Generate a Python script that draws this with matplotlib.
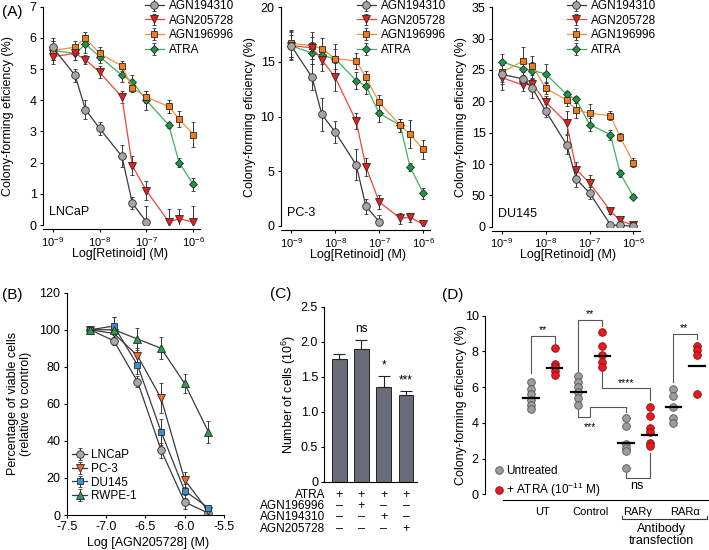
import numpy as np
import matplotlib.pyplot as plt
from matplotlib.lines import Line2D
from matplotlib.ticker import NullLocator

plt.rcParams['font.family'] = ['Liberation Sans', 'DejaVu Sans']
plt.rcParams['mathtext.default'] = 'regular'
plt.rcParams['font.size'] = 9
plt.rcParams['axes.linewidth'] = 0.8
plt.rcParams['xtick.major.width'] = 0.8
plt.rcParams['ytick.major.width'] = 0.8
plt.rcParams['xtick.major.size'] = 2.5
plt.rcParams['ytick.major.size'] = 2.5
plt.rcParams['xtick.major.pad'] = 1.5
plt.rcParams['ytick.major.pad'] = 2
plt.rcParams['xtick.labelsize'] = 8
plt.rcParams['ytick.labelsize'] = 9

W, H = 709, 550

# ---- panel A: colony formation vs retinoid concentration ----
conc = [1e-9, 3e-9, 5e-9, 1e-8, 3e-8, 5e-8, 1e-7, 3e-7, 5e-7, 1e-6]
compounds = ["AGN194310", "AGN205728", "AGN196996", "ATRA"]

lncap_194310 = [5.7, 4.8, 3.7, 3.1, 2.2, 0.7, 0.1]
lncap_194310_err = [0.3, 0.2, 0.3, 0.2, 0.35, 0.2, 0.5]
lncap_205728 = [5.4, 5.5, 5.3, 4.9, 4.1, 1.9, 1.1, 0.1, 0.2, 0.1]
lncap_205728_err = [0.25, 0.2, 0.15, 0.2, 0.2, 0.3, 0.3, 0.4, 0.3, 0.5]
lncap_196996 = [5.6, 5.7, 6.0, 5.5, 5.1, 4.4, 4.1, 3.8, 3.4, 2.9]
lncap_196996_err = [0.3, 0.2, 0.2, 0.2, 0.15, 0.15, 0.2, 0.2, 0.25, 0.4]
lncap_atra = [5.6, 5.5, 5.8, 5.4, 4.8, 4.6, 4.0, 3.2, 2.0, 1.3]
lncap_atra_err = [0.3, 0.2, 0.3, 0.2, 0.2, 0.2, 0.3, 0.1, 0.15, 0.2]

pc3_194310 = [16.5, 13.6, 10.2, 8.6, 5.6, 1.8, 0.4]
pc3_194310_err = [1.3, 1.2, 1.5, 1.0, 1.4, 0.7, 0.6]
pc3_205728 = [16.5, 16.3, 15.2, 13.6, 9.6, 5.4, 2.2, 0.7, 0.8, 0.15]
pc3_205728_err = [1.2, 1.0, 1.0, 1.3, 0.7, 0.8, 0.6, 0.5, 0.4, 0.3]
pc3_196996 = [16.7, 16.5, 16.2, 15.3, 15.1, 13.6, 11.3, 9.2, 8.4, 7.0]
pc3_196996_err = [1.2, 1.2, 1.0, 1.3, 0.7, 0.6, 0.7, 0.6, 1.3, 0.9]
pc3_atra = [16.5, 15.8, 15.6, 15.3, 13.3, 12.8, 10.3, 9.2, 5.4, 3.0]
pc3_atra_err = [1.0, 1.0, 0.8, 0.9, 0.8, 0.7, 0.8, 0.6, 0.4, 0.5]

du145_194310 = [24.3, 23.6, 22.1, 18.5, 13.1, 7.6, 5.4, 0.3, 0.2, 0.1]
du145_194310_err = [1.5, 1.0, 1.5, 1.0, 1.5, 1.2, 1.0, 0.4, 0.4, 0.3]
du145_205728 = [23.8, 22.6, 22.8, 19.9, 16.6, 9.1, 7.0, 2.5, 1.0, 0.2]
du145_205728_err = [2.0, 1.0, 1.0, 1.0, 1.8, 1.2, 1.3, 0.4, 0.4, 0.3]
du145_196996 = [24.6, 26.4, 25.7, 22.1, 20.2, 18.6, 18.1, 17.7, 14.3, 10.2]
du145_196996_err = [1.5, 2.2, 1.5, 1.0, 1.0, 1.2, 1.5, 0.7, 0.7, 0.7]
du145_atra = [26.3, 25.2, 24.9, 24.4, 21.1, 20.3, 16.3, 14.7, 8.5, 4.8]
du145_atra_err = [1.2, 1.2, 1.3, 1.5, 0.6, 0.6, 1.0, 0.8, 0.5, 0.4]

# ---- panel B: viability vs AGN205728 ----
log_agn = [-7.2, -6.9, -6.6, -6.3, -6.0, -5.7]
cell_lines = ["LNCaP", "PC-3", "DU145", "RWPE-1"]
viab_lncap = [100, 94, 72, 35, 7, 1]
viab_lncap_err = [0, 2, 3, 4, 4, 1]
viab_pc3 = [100, 98, 86, 63, 19, 2]
viab_pc3_err = [0, 3, 4, 8, 4, 1]
viab_du145 = [100, 102, 81, 45, 13, 4]
viab_du145_err = [0, 5, 5, 7, 4, 1]
viab_rwpe = [100, 100, 95, 90, 71, 45]
viab_rwpe_err = [0, 7, 6, 6, 5, 6]

# ---- panel C: cell numbers ----
cells_mean = [1.75, 1.89, 1.36, 1.24]
cells_err = [0.07, 0.13, 0.15, 0.05]
cells_sig = ["", "ns", "*", "***"]
table_rows = ["ATRA", "AGN196996", "AGN194310", "AGN205728"]
table_marks = [["+", "+", "+", "+"],
               ["–", "+", "–", "–"],
               ["–", "–", "+", "–"],
               ["–", "–", "–", "+"]]

# ---- panel D: antibody transfection ----
groups = ["UT", "Control", "RARγ", "RARα"]
untreated = [[6.3, 5.9, 5.6, 5.3, 5.0, 4.8],
             [6.6, 6.3, 6.0, 5.7, 5.4, 5.0],
             [4.3, 3.8, 2.8, 2.6, 2.4, 1.5],
             [5.9, 5.5, 4.9, 4.3, 4.0]]
atra_treated = [[8.2, 7.3, 7.1, 6.9, 6.7],
                [9.1, 8.3, 7.8, 7.4, 7.1],
                [4.9, 4.4, 3.7, 3.5, 2.9, 2.7],
                [8.3, 8.1, 7.8, 5.6]]
untreated_mid = [5.4, 5.7, 2.85, 4.9]
atra_mid = [7.05, 7.75, 3.3, 7.2]

fig = plt.figure(figsize=(W / 100, H / 100), dpi=100)


def px_axes(left, top, right, bottom):
    return fig.add_axes([left / W, 1 - bottom / H, (right - left) / W, (bottom - top) / H])


def clean(ax):
    ax.spines['top'].set_visible(False)
    ax.spines['right'].set_visible(False)


styles = {
    "AGN194310": dict(marker='o', mfc='#a4a4a4', color='#3a3a3a', ms=5.5),
    "AGN205728": dict(marker='v', mfc='#e3201b', color='#f0443a', ms=5.5),
    "AGN196996": dict(marker='s', mfc='#f47a1f', color='#f5913e', ms=5.0),
    "ATRA": dict(marker='D', mfc='#1e9648', color='#3cb55a', ms=4.5),
}


def retinoid_panel(ax, series, errs, ylim, yticks, yticklabels, cell, xlo, xhi, leg_px):
    for name in compounds[::-1]:
        st = styles[name]
        y = series[name]
        ax.errorbar(conc[:len(y)], y, yerr=errs[name], color=st['color'], lw=0.9,
                    marker=st['marker'], mfc=st['mfc'], mec='#2a2a2a', mew=0.6, ms=st['ms'],
                    ecolor='#333333', elinewidth=0.7, capsize=1.5, capthick=0.7, label=name)
    ax.set_xscale('log')
    ax.set_xlim(10 ** xlo, 10 ** xhi)
    ax.set_ylim(*ylim)
    ax.set_xticks([1e-9, 1e-8, 1e-7, 1e-6])
    ax.xaxis.set_minor_locator(NullLocator())
    ax.set_yticks(yticks)
    ax.set_yticklabels(yticklabels)
    clean(ax)
    ax.spines['bottom'].set_position(('outward', 3))
    ax.text(0.04, 0.045, cell, transform=ax.transAxes, fontsize=9)
    handles, labels = ax.get_legend_handles_labels()
    ax.legend(handles[::-1], labels[::-1], loc='upper left', frameon=False, fontsize=8.5,
              bbox_to_anchor=(leg_px[0] / W, 1 - leg_px[1] / H), bbox_transform=fig.transFigure,
              borderpad=0, borderaxespad=0, labelspacing=0.22, handlelength=1.6, handletextpad=0.4)
    ax.set_xlabel("Log[Retinoid] (M)", fontsize=9)
    ax.set_ylabel("Colony-forming eficiency (%)", fontsize=9)


# A1 LNCaP
ax1 = px_axes(43, 6.7, 200, 225)
retinoid_panel(ax1,
               dict(zip(compounds, [lncap_194310, lncap_205728, lncap_196996, lncap_atra])),
               dict(zip(compounds, [lncap_194310_err, lncap_205728_err, lncap_196996_err, lncap_atra_err])),
               (0, 7), range(0, 8), [str(v) for v in range(0, 8)], "LNCaP", -9.207, -5.857, (145, 0))
ax1.yaxis.set_label_coords(-0.185, 0.5)
ax1.xaxis.set_label_coords(0.49, -0.106)

# A2 PC-3
ax2 = px_axes(280.7, 7.3, 430, 226)
retinoid_panel(ax2,
               dict(zip(compounds, [pc3_194310, pc3_205728, pc3_196996, pc3_atra])),
               dict(zip(compounds, [pc3_194310_err, pc3_205728_err, pc3_196996_err, pc3_atra_err])),
               (0, 20), [0, 5, 10, 15, 20], ["0", "5", "10", "15", "20"], "PC-3", -9.234, -5.848, (357, 0))
ax2.yaxis.set_label_coords(-0.165, 0.5)
ax2.xaxis.set_label_coords(0.52, -0.106)

# A3 DU145
ax3 = px_axes(491.7, 7.3, 640, 226.7)
retinoid_panel(ax3,
               dict(zip(compounds, [du145_194310, du145_205728, du145_196996, du145_atra])),
               dict(zip(compounds, [du145_194310_err, du145_205728_err, du145_196996_err, du145_atra_err])),
               (0, 35), range(0, 40, 5), ["0", "50", "10", "15", "20", "25", "30", "35"], "DU145",
               -9.228, -5.85, (567, 0))
ax3.yaxis.set_label_coords(-0.165, 0.5)
ax3.xaxis.set_label_coords(0.517, -0.103)

fig.text(2 / W, 1 - 12 / H, "(A)", fontsize=11, va='center')

# ---- B ----
axb = px_axes(66.7, 292.7, 224, 515)
b_series = [viab_lncap, viab_pc3, viab_du145, viab_rwpe]
b_errs = [viab_lncap_err, viab_pc3_err, viab_du145_err, viab_rwpe_err]
b_markers = [('o', '#a8a8a8', 5.5), ('v', '#f26b21', 5.5), ('s', '#3a8fd6', 5.0), ('^', '#2a9d48', 5.5)]
for name, y, e, (m, c, ms) in zip(cell_lines, b_series, b_errs, b_markers):
    axb.errorbar(log_agn, y, yerr=e, color='#3a3a3a', lw=0.9, marker=m, mfc=c, mec='#2a2a2a',
                 mew=0.6, ms=ms, ecolor='#333333', elinewidth=0.7, capsize=1.5, capthick=0.7, label=name)
axb.set_xlim(-7.5, -5.5)
axb.set_ylim(0, 120)
axb.set_xticks([-7.5, -7.0, -6.5, -6.0, -5.5])
axb.set_xticklabels(["-7.5", "-7.0", "-6.5", "-6.0", "-5.5"], fontsize=9)
axb.set_yticks(range(0, 121, 20))
clean(axb)
axb.set_xlabel("Log [AGN205728] (M)", fontsize=9)
axb.set_ylabel("Percentage of viable cells\n(relative to control)", linespacing=1.1, fontsize=9)
axb.yaxis.set_label_coords(-0.22, 0.5)
axb.xaxis.set_label_coords(0.52, -0.1)
axb.legend(loc='upper left', frameon=False, fontsize=8.5,
           bbox_to_anchor=(72 / W, 1 - 449 / H), bbox_transform=fig.transFigure,
           borderpad=0, borderaxespad=0, labelspacing=0.15, handlelength=1.3, handletextpad=0.35)
fig.text(2 / W, 1 - 295 / H, "(B)", fontsize=11, va='center')

# ---- C ----
axc = px_axes(324.3, 306.7, 416.7, 481.7)
xc = np.arange(len(cells_mean))
axc.bar(xc, cells_mean, width=0.67, color='#6a6c78', edgecolor='#222222', linewidth=0.7,
        yerr=[np.zeros(len(cells_err)), cells_err], error_kw=dict(ecolor='#222222', elinewidth=0.8,
                                                                  capsize=4, capthick=0.8))
for x, m, e, s in zip(xc, cells_mean, cells_err, cells_sig):
    if s:
        axc.text(x, m + e + 0.07, s, ha='center', va='bottom', fontsize=8.5)
axc.set_xlim(-0.67, 3.48)
axc.set_ylim(0, 2.5)
axc.set_yticks([0, 0.5, 1.0, 1.5, 2.0, 2.5])
axc.set_yticklabels(["0", "0.5", "1.0", "1.5", "2.0", "2.5"])
axc.set_xticks([])
clean(axc)
axc.set_ylabel("Number of cells (10$^{6}$)", fontsize=9)
axc.yaxis.set_label_coords(-0.285, 0.5)
row_y = [-0.19, -0.35, -0.51, -0.67]
for ry, label, marks in zip(row_y, table_rows, table_marks):
    axc.text(-0.62, ry, label, ha='right', va='center', fontsize=8.5, clip_on=False)
    for x, mk in zip(xc, marks):
        axc.text(x, ry, mk, ha='center', va='center', fontsize=9, clip_on=False)
fig.text(270 / W, 1 - 294 / H, "(C)", fontsize=11, va='center')

# ---- D ----
axd = px_axes(485, 315.7, 708, 494.3)
gray_c, red_c = '#9c9c9c', '#e8191f'
for g, (u, a, um, am) in enumerate(zip(untreated, atra_treated, untreated_mid, atra_mid)):
    axd.plot([g - 0.25] * len(u), u, 'o', ms=5.5, mfc=gray_c, mec='#555555', mew=0.6, zorder=3)
    axd.plot([g + 0.25] * len(a), a, 'o', ms=5.5, mfc=red_c, mec='#8a1010', mew=0.6, zorder=3)
    axd.plot([g - 0.41, g - 0.09], [um, um], color='black', lw=1.6, zorder=4)
    axd.plot([g + 0.09, g + 0.41], [am, am], color='black', lw=1.6, zorder=4)

bk = dict(color='#555555', lw=0.8, zorder=2)
sk = dict(ha='center', fontsize=7.5)
axd.plot([-0.25, -0.25, 0.25, 0.25], [6.77, 8.86, 8.86, 8.48], **bk)
axd.text(0, 8.9, "**", va='bottom', **sk)
axd.plot([0.75, 0.75, 1.25, 1.25], [6.92, 9.75, 9.75, 9.42], **bk)
axd.text(1, 9.79, "**", va='bottom', **sk)
axd.plot([2.75, 2.75, 3.25, 3.25], [6.3, 8.97, 8.97, 8.67], **bk)
axd.text(2.97, 9.01, "**", va='bottom', **sk)
axd.plot([1.25, 1.25, 2.25, 2.25], [6.86, 5.93, 5.93, 5.28], **bk)
axd.text(1.75, 5.97, "****", va='bottom', **sk)
axd.plot([0.75, 0.75, 1.0, 1.0, 1.75, 1.75], [4.72, 4.34, 4.34, 4.9, 4.9, 4.62], **bk)
axd.text(1.0, 4.05, "***", va='top', **sk)
axd.plot([1.75, 1.75, 2.25, 2.25], [1.17, 0.9, 0.9, 2.3], **bk)
axd.text(1.98, 0.46, "ns", va='center', ha='center', fontsize=9)

axd.set_xlim(-1.22, 3.48)
axd.set_ylim(0, 10)
axd.set_yticks(range(0, 11, 2))
axd.set_xticks(range(len(groups)))
axd.set_xticklabels(groups, fontsize=9)
axd.tick_params(axis='x', length=0, pad=5)
clean(axd)
axd.spines['bottom'].set_position(('outward', 4))
axd.spines['bottom'].set_bounds(-0.85, 3.48)
axd.set_ylabel("Colony-forming eficiency (%)", fontsize=9)
axd.yaxis.set_label_coords(-0.08, 0.5)
axd.plot([1.66, 1.66, 3.45, 3.45], [-1.2, -1.4, -1.4, -1.2], color='#333333', lw=0.8, clip_on=False)
axd.text(2.5, -1.58, "Antibody\ntransfection", ha='center', va='top', fontsize=9, linespacing=1.0,
         clip_on=False)
leg_handles = [Line2D([], [], ls='', marker='o', ms=5.5, mfc=gray_c, mec='#555555', mew=0.6),
               Line2D([], [], ls='', marker='o', ms=5.5, mfc=red_c, mec='#8a1010', mew=0.6)]
axd.legend(leg_handles, ["Untreated", "+ ATRA (10$^{-11}$ M)"], loc='upper left', frameon=False,
           fontsize=8.5, bbox_to_anchor=(494 / W, 1 - 465 / H), bbox_transform=fig.transFigure,
           borderpad=0, borderaxespad=0, labelspacing=0.35, handlelength=0.8, handletextpad=0.25)
fig.text(442 / W, 1 - 295 / H, "(D)", fontsize=11, va='center')

fig.savefig("out.png", dpi=100)
